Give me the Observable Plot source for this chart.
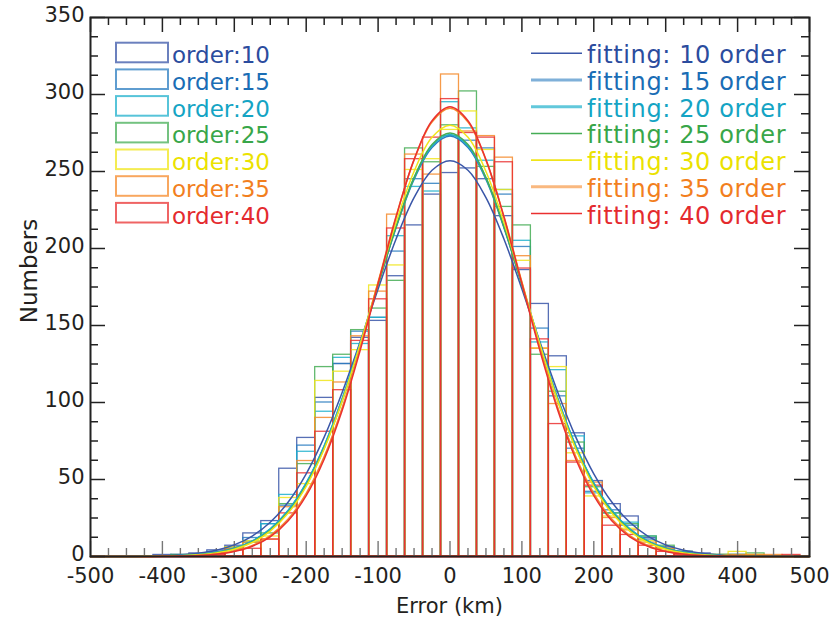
<!DOCTYPE html>
<html>
<head>
<meta charset="utf-8">
<script src="https://cdn.jsdelivr.net/npm/d3@7"></script>
<script src="https://cdn.jsdelivr.net/npm/@observablehq/plot@0.6"></script>
<style>
  html, body { margin: 0; padding: 0; background: #fff; }
  #chart { width: 832px; height: 621px; }
</style>
</head>
<body>
<div id="chart"></div>
<script>
// ---- data ----
const orders = ["10", "15", "20", "25", "30", "35", "40"];
const barColors = ["#3a56a8", "#2a7cc0", "#1fb0cc", "#45ad55", "#f0e51a", "#f5892a", "#ea3030"];
const textColors = ["#2b4c9e", "#1a6db5", "#14a4c4", "#38a649", "#ebe200", "#f27f1e", "#e42a2e"];

// histogram bin centres (bin width 25 km)
const binCenters = [-475,-450,-425,-400,-375,-350,-325,-300,-275,-250,-225,-200,-175,-150,-125,-100,-75,-50,-25,0,25,50,75,100,125,150,175,200,225,250,275,300,325,350,375,400,425,450,475];

const counts10 = [0,0,0,1,1,2,4,7,15,23,57,77,103,125,142,153,182,215,235,249,252,245,221,186,164,130,80,49,34,26,12,6,3,2,1,0,0,0,0];
const counts15 = [0,0,0,0,1,1,3,6,12,21,33,72,100,125,146,155,198,245,242,273,270,265,235,201,148,104,70,42,30,20,11,5,3,1,0,1,0,0,0];
const counts20 = [0,0,0,0,0,1,2,5,10,21,40,68,94,129,138,155,208,240,237,295,278,257,238,205,139,121,78,41,28,22,13,5,2,1,1,1,0,0,0];
const counts25 = [0,0,0,0,1,1,2,5,9,15,34,60,123,131,147,161,179,265,256,280,302,253,227,215,131,107,74,45,28,21,13,7,3,1,1,1,2,0,0];
const counts30 = [0,0,0,0,0,1,2,6,10,13,38,47,114,120,134,176,189,251,258,277,289,264,238,192,135,123,67,39,26,18,10,5,2,1,1,3,1,0,0];
const counts35 = [0,0,0,0,0,1,2,5,9,11,32,62,90,113,143,172,222,261,248,313,276,273,259,195,135,99,62,48,25,17,9,5,2,1,0,1,1,1,0];
const counts40 = [0,0,0,0,0,0,1,4,5,11,28,54,81,108,140,167,213,258,272,297,275,272,256,187,141,86,61,46,20,14,7,3,1,1,0,0,0,0,1];

// fitted curves, sampled every 25 km
const fitX = [-500,-475,-450,-425,-400,-375,-350,-325,-300,-275,-250,-225,-200,-175,-150,-125,-100,-75,-50,-25,0,25,50,75,100,125,150,175,200,225,250,275,300,325,350,375,400,425,450,475,500];
const fit10 = [0.01,0.04,0.09,0.22,0.49,1.04,2.12,4.11,7.57,13.3,22.2,35.4,53.7,77.5,106.5,139.4,173.7,206.2,233.0,250.8,257,250.8,233.0,206.2,173.7,139.4,106.5,77.5,53.7,35.4,22.2,13.3,7.57,4.11,2.12,1.04,0.49,0.22,0.09,0.04,0.01];
const fit15 = [0,0.01,0.04,0.10,0.25,0.59,1.30,2.71,5.36,10.0,17.8,29.9,47.6,71.7,102.2,138.0,176.4,213.5,244.8,265.6,273,265.6,244.8,213.5,176.4,138.0,102.2,71.7,47.6,29.9,17.8,10.0,5.36,2.71,1.30,0.59,0.25,0.10,0.04,0.01,0];
const fit20 = [0,0.01,0.04,0.10,0.25,0.59,1.30,2.72,5.38,10.1,17.9,30.0,47.8,71.9,102.6,138.5,177.0,214.3,245.7,266.6,274,266.6,245.7,214.3,177.0,138.5,102.6,71.9,47.8,30.0,17.9,10.1,5.38,2.72,1.30,0.59,0.25,0.10,0.04,0.01,0];
const fit25 = [0,0.01,0.03,0.09,0.22,0.53,1.18,2.50,5.01,9.50,17.0,28.9,46.4,70.4,101.0,137.2,176.2,214.1,246.0,267.5,275,267.5,246.0,214.1,176.2,137.2,101.0,70.4,46.4,28.9,17.0,9.50,5.01,2.50,1.18,0.53,0.22,0.09,0.03,0.01,0];
const fit30 = [0,0.01,0.03,0.08,0.20,0.48,1.08,2.33,4.73,9.07,16.5,28.2,45.6,69.8,100.9,137.8,177.9,217.0,250.0,272.2,280,272.2,250.0,217.0,177.9,137.8,100.9,69.8,45.6,28.2,16.5,9.07,4.73,2.33,1.08,0.48,0.20,0.08,0.03,0.01,0];
const fit35 = [0,0,0.01,0.04,0.11,0.30,0.72,1.64,3.53,7.15,13.6,24.3,41.0,64.9,96.6,135.3,178.2,220.9,257.4,282.2,291,282.2,257.4,220.9,178.2,135.3,96.6,64.9,41.0,24.3,13.6,7.15,3.53,1.64,0.72,0.30,0.11,0.04,0.01,0,0];
const fit40 = [0,0,0.01,0.03,0.10,0.26,0.64,1.48,3.24,6.65,12.8,23.2,39.5,63.2,94.8,133.7,177.1,220.4,257.7,283.0,292,283.0,257.7,220.4,177.1,133.7,94.8,63.2,39.5,23.2,12.8,6.65,3.24,1.48,0.64,0.26,0.10,0.03,0.01,0,0];

const xTickLabels = [-500,-400,-300,-200,-100,0,100,200,300,400,500];
const yTickLabels = [0,50,100,150,200,250,300,350];

// ---- build tables ----
const countsAll = [counts10, counts15, counts20, counts25, counts30, counts35, counts40];
const fitsAll = [fit10, fit15, fit20, fit25, fit30, fit35, fit40];
const binWidth = 25;
const histRows = orders.flatMap((o, k) => binCenters.map((c, i) => ({order: o, x1: c - binWidth / 2, x2: c + binWidth / 2, count: countsAll[k][i]})));
const fitRows = orders.flatMap((o, k) => fitX.map((x, i) => ({order: o, x, y: fitsAll[k][i]})));

const W = 832, H = 621, mL = 90, mR = 23, mT = 17, mB = 65;
const plotW = W - mL - mR, plotH = H - mT - mB;
const xMinor = d3.range(-500, 501, 25);
const yMinor = d3.range(0, 351, 12.5);
const majLen = 15, minLen = 8;

const svg = Plot.plot({
  width: W, height: H,
  marginLeft: mL, marginRight: mR, marginTop: mT, marginBottom: mB,
  style: {fontFamily: "'DejaVu Sans', sans-serif", fontSize: "21px", color: "#231f20", background: "#fff"},
  x: {domain: [-500, 500]},
  y: {domain: [0, 350]},
  color: {domain: orders, range: barColors},
  marks: [
    // histograms (outlined bars, not stacked)
    Plot.rect(histRows, {x1: "x1", x2: "x2", y1: () => 0, y2: "count", stroke: "order", fill: "none", strokeWidth: 1.3, strokeOpacity: 0.85}),
    Plot.ruleY([0], {stroke: barColors[6], strokeWidth: 2}),
    // bottom ticks (inward, grey)
    Plot.tickX(xMinor.filter(d => d % 100 !== 0), {x: d => d, insetTop: plotH - minLen, stroke: "#777", strokeWidth: 1.4}),
    Plot.tickX(xTickLabels, {x: d => d, insetTop: plotH - majLen, stroke: "#777", strokeWidth: 1.4}),
    // fitted curves
    Plot.line(fitRows, {x: "x", y: "y", z: "order", stroke: "order", strokeWidth: 1.5, curve: "catmull-rom"}),
    // top ticks
    Plot.tickX(xMinor.filter(d => d % 100 !== 0), {x: d => d, insetBottom: plotH - minLen, stroke: "#222", strokeWidth: 1.5}),
    Plot.tickX(xTickLabels, {x: d => d, insetBottom: plotH - majLen, stroke: "#222", strokeWidth: 1.5}),
    // left / right ticks
    Plot.tickY(yMinor.filter(d => d % 50 !== 0), {y: d => d, insetRight: plotW - minLen, stroke: "#222", strokeWidth: 1.5}),
    Plot.tickY(yTickLabels, {y: d => d, insetRight: plotW - majLen, stroke: "#222", strokeWidth: 1.5}),
    Plot.tickY(yMinor.filter(d => d % 50 !== 0), {y: d => d, insetLeft: plotW - minLen, stroke: "#222", strokeWidth: 1.5}),
    Plot.tickY(yTickLabels, {y: d => d, insetLeft: plotW - majLen, stroke: "#222", strokeWidth: 1.5}),
    Plot.frame({stroke: "#222", strokeWidth: 2}),
    Plot.axisX({ticks: xTickLabels, tickSize: 0, tickPadding: 12, tickFormat: d => String(d), label: null}),
    Plot.axisY({ticks: yTickLabels, tickSize: 0, tickPadding: 6, dy: -2, tickFormat: d => String(d), label: null})
  ]
});

// ---- legends and axis titles ----
const s = d3.select(svg);
const gl = s.append("g").attr("font-family", "'DejaVu Sans', sans-serif").attr("text-anchor", "start");
orders.forEach((o, i) => {
  gl.append("rect")
    .attr("x", 116).attr("y", 42.7 + i * 26.7).attr("width", 52).attr("height", 19.6)
    .attr("fill", "none").attr("stroke", barColors[i]).attr("stroke-width", 2).attr("stroke-opacity", 0.75);
  gl.append("text")
    .attr("x", 172).attr("y", 63.3 + i * 26.7)
    .attr("font-size", 23).attr("fill", textColors[i])
    .text("order:" + o);
});
const lineWidths = [1.5, 3, 3, 1.5, 1.8, 3, 1.5];
const lineOpac = [1, 0.6, 0.7, 1, 1, 0.6, 1];
const gr = s.append("g").attr("font-family", "'DejaVu Sans', sans-serif").attr("text-anchor", "start");
orders.forEach((o, i) => {
  gr.append("line")
    .attr("x1", 531).attr("x2", 582).attr("y1", 53.3 + i * 26.7).attr("y2", 53.3 + i * 26.7)
    .attr("stroke", barColors[i]).attr("stroke-width", lineWidths[i]).attr("stroke-opacity", lineOpac[i]);
  gr.append("text")
    .attr("x", 587).attr("y", 63.3 + i * 26.7)
    .attr("font-size", 24).attr("letter-spacing", 0.6).attr("fill", textColors[i])
    .text("fitting: " + o + " order");
});
s.append("text")
  .attr("x", mL + plotW / 2).attr("y", 613)
  .attr("text-anchor", "middle").attr("font-size", 21).attr("fill", "#231f20")
  .attr("font-family", "'DejaVu Sans', sans-serif")
  .text("Error (km)");
s.append("text")
  .attr("transform", "translate(37,271) rotate(-90)")
  .attr("text-anchor", "middle").attr("font-size", 23).attr("fill", "#231f20")
  .attr("font-family", "'DejaVu Sans', sans-serif")
  .text("Numbers");

document.getElementById("chart").appendChild(svg);
</script>
</body>
</html>
